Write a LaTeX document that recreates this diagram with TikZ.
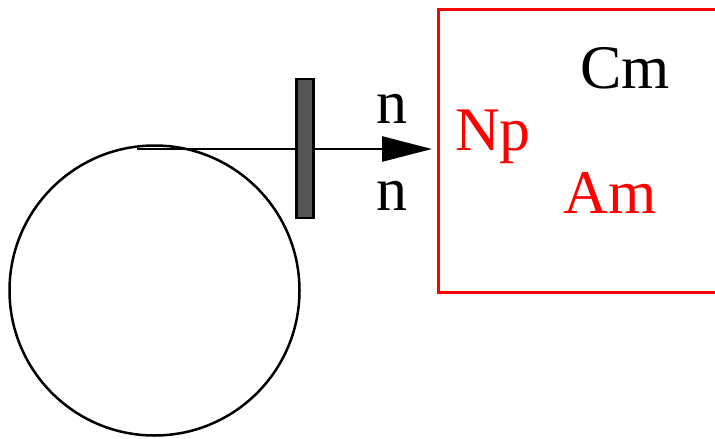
\documentclass[tikz,border=0pt]{standalone}
\usepackage{fontspec}
\setmainfont{Liberation Serif}
\usetikzlibrary{arrows.meta}
\begin{document}
\begin{tikzpicture}[x=1pt,y=-1pt,
  lbl/.style={font=\fontsize{62}{70}\selectfont, inner sep=0pt, anchor=base},
  place/.style={draw=black, line width=2.5pt, circle, minimum size=290pt, inner sep=0pt},
  trans/.style={draw=black, line width=2.5pt, fill=black!67, minimum width=17pt, minimum height=139pt, inner sep=0pt},
  ctrl/.style={draw=red, line width=2.5pt, minimum width=290pt, minimum height=283pt, inner sep=0pt}
]
\useasboundingbox (0,0) rectangle (715,439);
\node[place] (p) at (154.5,290.5) {};
\node[ctrl, anchor=north west] (c) at (437,8) {};
\coordinate (s) at (137,149);
\draw[line width=2.7pt, -{Triangle[length=50pt,width=25pt]}] (s) -- ([xshift=-5pt]c.west |- s);
\node[trans] (t) at (305,148.5) {};
\node[lbl, anchor=base] (n1) at (392,123) {n};
\node[lbl, anchor=base] (n2) at (392,210) {n};
\node[lbl, anchor=base, red] (np) at (493,150) {Np};
\node[lbl, anchor=base] (cm) at (625,88) {Cm};
\node[lbl, anchor=base, red] (am) at (610,213) {Am};
\end{tikzpicture}
\end{document}
